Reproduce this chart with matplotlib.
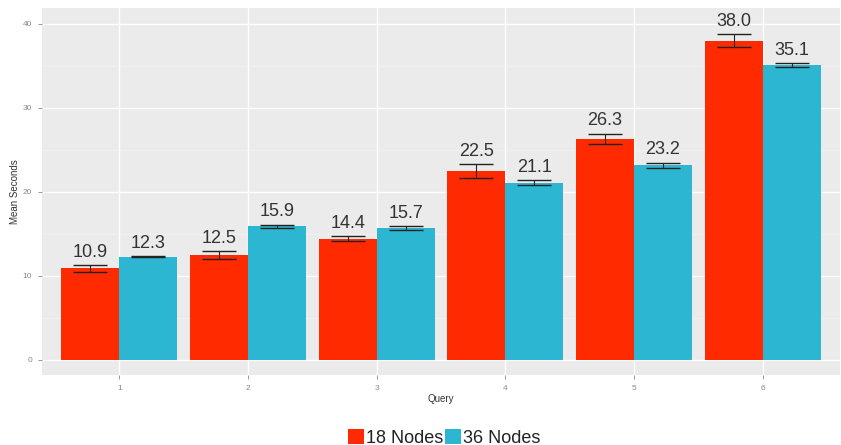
import numpy as np
import matplotlib.pyplot as plt

plt.rcParams['font.family'] = ['Liberation Sans', 'DejaVu Sans']

queries = [1, 2, 3, 4, 5, 6]
nodes18 = [10.9, 12.5, 14.4, 22.5, 26.3, 38.0]
nodes36 = [12.3, 15.9, 15.7, 21.1, 23.2, 35.1]
err18 = [0.4, 0.5, 0.3, 0.8, 0.65, 0.8]
err36 = [0.1, 0.2, 0.2, 0.3, 0.3, 0.2]
series_labels = ['18 Nodes', '36 Nodes']
colors = ['#FF2A00', '#2DB6D1']

fig = plt.figure(figsize=(8.41, 4.45), dpi=100)
ax = fig.add_axes([42 / 841, 70 / 445, 798 / 841, 367 / 445])
ax.set_facecolor('#EBEBEB')

x = np.array(queries)
w = 0.45
for i, (vals, errs) in enumerate([(nodes18, err18), (nodes36, err36)]):
    pos = x + (i - 0.5) * w
    ax.bar(pos, vals, width=w, color=colors[i], label=series_labels[i], zorder=2)
    ax.errorbar(pos, vals, yerr=errs, fmt='none', ecolor='#222222',
                elinewidth=0.8, capsize=12, capthick=1.0, zorder=3)
    for p, v, e in zip(pos, vals, errs):
        ax.text(p, v + e + 0.5, '%.1f' % v, ha='center', va='bottom',
                fontsize=13, color='#333333', zorder=4)

ax.set_xlim(0.4, 6.6)
ax.set_ylim(-1.8, 41.9)
ax.set_xticks(queries)
ax.set_yticks([0, 10, 20, 30, 40])
ax.set_yticks([5, 15, 25, 35], minor=True)
ax.set_xticks([], minor=True)
ax.grid(which='major', color='white', linewidth=1.0, zorder=0)
ax.grid(which='minor', axis='y', color='#F3F3F3', linewidth=0.5, zorder=0)
ax.set_axisbelow(True)
for s in ax.spines.values():
    s.set_visible(False)
ax.tick_params(axis='both', which='major', labelsize=6, colors='#888888',
               length=3, width=0.6, pad=4)
ax.tick_params(axis='both', which='minor', length=0)
ax.set_xlabel('Query', fontsize=7, color='#333333', labelpad=2)
ax.set_ylabel('Mean Seconds', fontsize=7, color='#333333', labelpad=2)

handles, labels = ax.get_legend_handles_labels()
fig.legend(handles, labels, loc='lower center', bbox_to_anchor=(0.528, -0.04),
           ncol=2, frameon=False, fontsize=13, handlelength=0.9,
           handleheight=0.9, handletextpad=0.1, columnspacing=0.1,
           labelcolor='#222222')

fig.savefig('out.png', dpi=100)
